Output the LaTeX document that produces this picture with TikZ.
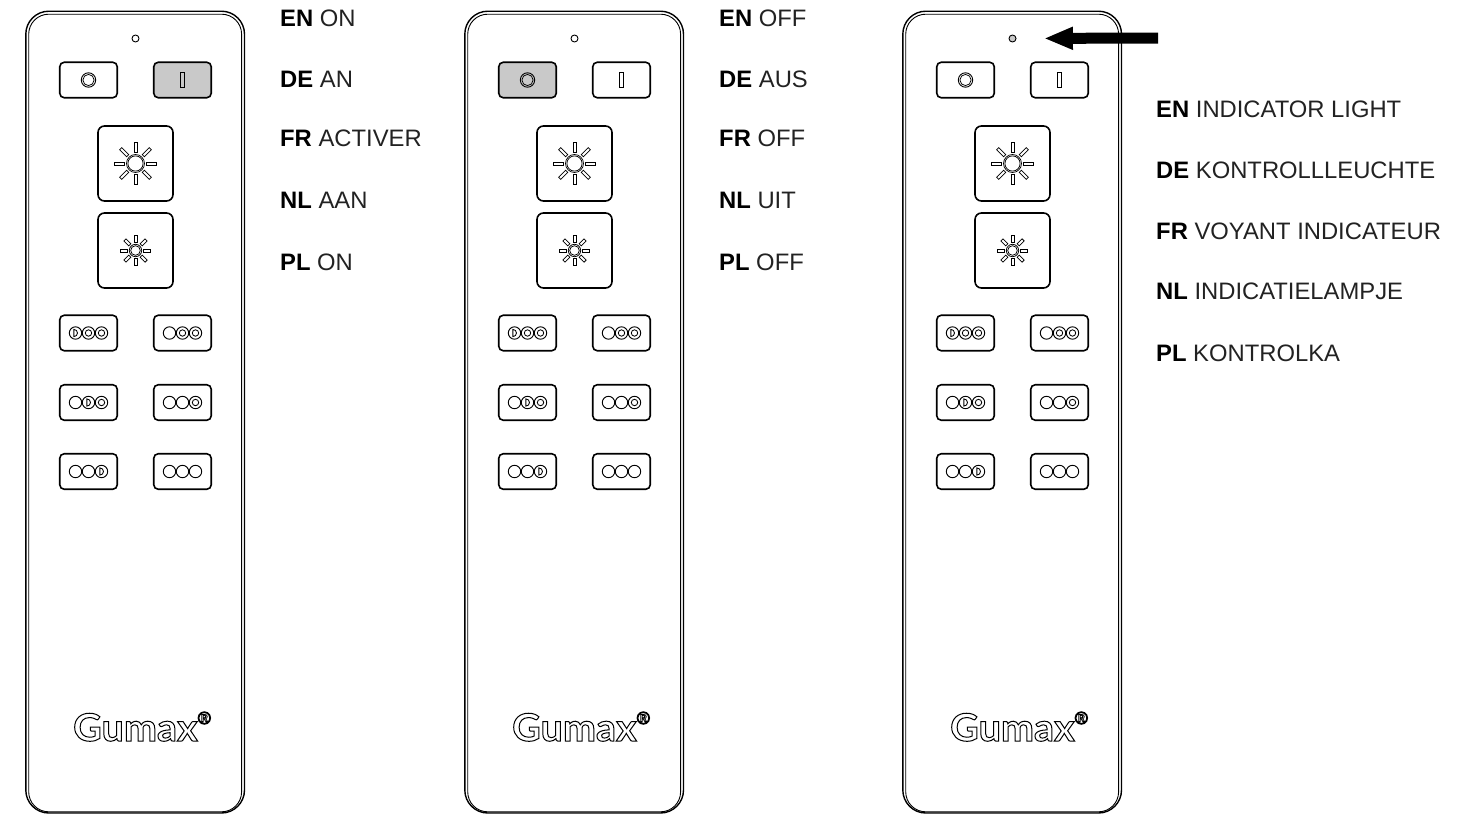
\documentclass[tikz,border=0pt]{standalone}
\usepackage{fontspec}
\setmainfont{Liberation Sans}
\newfontfamily\logofont[FakeStretch=1.04]{Lato}
\usetikzlibrary{arrows.meta}
\definecolor{btngray}{HTML}{C9C9C9}
\definecolor{inkgray}{HTML}{222222}
\newcommand{\outlined}[2]{\special{pdf:code 1 Tr #1 w}#2\special{pdf:code 0 Tr}}
\newcommand{\lang}[2]{\textbf{#1} {\color{inkgray}#2}}
\tikzset{
  caption/.style={anchor=base west,inner sep=0pt,font=\fontsize{23.8}{28}\selectfont},
  keybox/.style={draw,rounded corners=4.5,line width=1.6pt,inner sep=0pt},
  smallkey/.style={keybox,minimum width=57.5,minimum height=35.5},
  bigkey/.style={keybox,minimum width=75,minimum height=75,rounded corners=6.5},
  thin ink/.style={line width=.75pt},
  led/.style={draw,circle,inner sep=0pt,minimum size=7,line width=.9pt},
  pointer/.style={line width=11pt,-{Triangle[length=29pt,width=21pt]},shorten >=27.5pt},
  pics/sunburst/.style n args={3}{code={
    \draw[thin ink] (0,0) circle (#1);
    \draw[thin ink] (0,0) circle (#1-1.4);
    \foreach \a in {0,45,...,315}
      \draw[thin ink,rotate=\a] (#2,-1.5) rectangle (#3,1.5);
  }},
  % 0 empty, 1 ring, 2 half disc
  pics/lamps/.style n args={3}{code={
    \foreach \x/\s in {-13/#1,0/#2,13/#3}{
      \draw[line width=.95pt] (\x,0) circle (6.2);
      \ifnum\s=1 \draw[line width=.85pt] (\x,0) circle (3.2);\fi
      \ifnum\s=2 \draw[line width=.85pt] (\x-1.6,-3.6) arc (-90:90:3.6) -- cycle;\fi
    }
  }},
  pics/remote/.style n args={3}{code={
    \draw[line width=1.4pt,rounded corners=23] (25.8,11.2) rectangle (244.5,813);
    \draw[line width=.9pt,rounded corners=20] (28.7,14.2) rectangle (241.6,811.8);
    \node[led,fill=#1] (led) at (135.5,38.5) {};
    \node[smallkey,fill=#2] (off) at (88.5,80) {};
    \node[smallkey,fill=#3] (on) at (182.5,80) {};
    \draw[line width=.9pt] (off) circle (7.2);
    \draw[thin ink] (off) circle (5.6);
    \draw[line width=.9pt] (180.1,72.7) rectangle (184.9,87.7);
    \node[bigkey] (up) at (135.5,163.5) {};
    \node[bigkey] (down) at (135.5,250.5) {};
    \pic at (up) {sunburst={9}{11}{21}};
    \pic at (down) {sunburst={6.2}{8}{15}};
    \node[smallkey] (s1) at (88.5,333) {};
    \node[smallkey] (s2) at (182.5,333) {};
    \node[smallkey] (s3) at (88.5,402.5) {};
    \node[smallkey] (s4) at (182.5,402.5) {};
    \node[smallkey] (s5) at (88.5,471.5) {};
    \node[smallkey] (s6) at (182.5,471.5) {};
    \pic at (s1) {lamps={2}{1}{1}};
    \pic at (s2) {lamps={0}{1}{1}};
    \pic at (s3) {lamps={0}{2}{1}};
    \pic at (s4) {lamps={0}{0}{1}};
    \pic at (s5) {lamps={0}{0}{2}};
    \pic at (s6) {lamps={0}{0}{0}};
    \node[anchor=base west,inner sep=0pt,font=\logofont\bfseries\fontsize{38}{40}\selectfont] (logo) at (73,741) {\outlined{1}{Gumax}};
    \node[anchor=west,inner sep=0pt,font=\bfseries\fontsize{18}{18}\selectfont] (reg) at (197.5,718) {\outlined{.8}{®}};
  }},
}
\begin{document}
\begin{tikzpicture}[x=1pt,y=-1pt]
  \useasboundingbox (0,0) rectangle (1471,814);
  \pic (a) at (0,0) {remote={white}{white}{btngray}};
  \pic (b) at (439,0) {remote={white}{btngray}{white}};
  \pic (c) at (877,0) {remote={btngray}{white}{white}};
  \coordinate (tail) at (1158,38);
  \draw[pointer] (tail)--(cled);
  \node[caption] (aen) at (280,26) {\lang{EN}{ON}};
  \node[caption] (ade) at (280,87) {\lang{DE}{AN}};
  \node[caption] (afr) at (280,146) {\lang{FR}{ACTIVER}};
  \node[caption] (anl) at (280,208) {\lang{NL}{AAN}};
  \node[caption] (apl) at (280,270) {\lang{PL}{ON}};
  \node[caption] (ben) at (719,26) {\lang{EN}{OFF}};
  \node[caption] (bde) at (719,87) {\lang{DE}{AUS}};
  \node[caption] (bfr) at (719,146) {\lang{FR}{OFF}};
  \node[caption] (bnl) at (719,208) {\lang{NL}{UIT}};
  \node[caption] (bpl) at (719,270) {\lang{PL}{OFF}};
  \node[caption] (cen) at (1156,117) {\lang{EN}{INDICATOR LIGHT}};
  \node[caption] (cde) at (1156,178) {\lang{DE}{KONTROLLLEUCHTE}};
  \node[caption] (cfr) at (1156,239) {\lang{FR}{VOYANT INDICATEUR}};
  \node[caption] (cnl) at (1156,299) {\lang{NL}{INDICATIELAMPJE}};
  \node[caption] (cpl) at (1156,361) {\lang{PL}{KONTROLKA}};
\end{tikzpicture}
\end{document}
